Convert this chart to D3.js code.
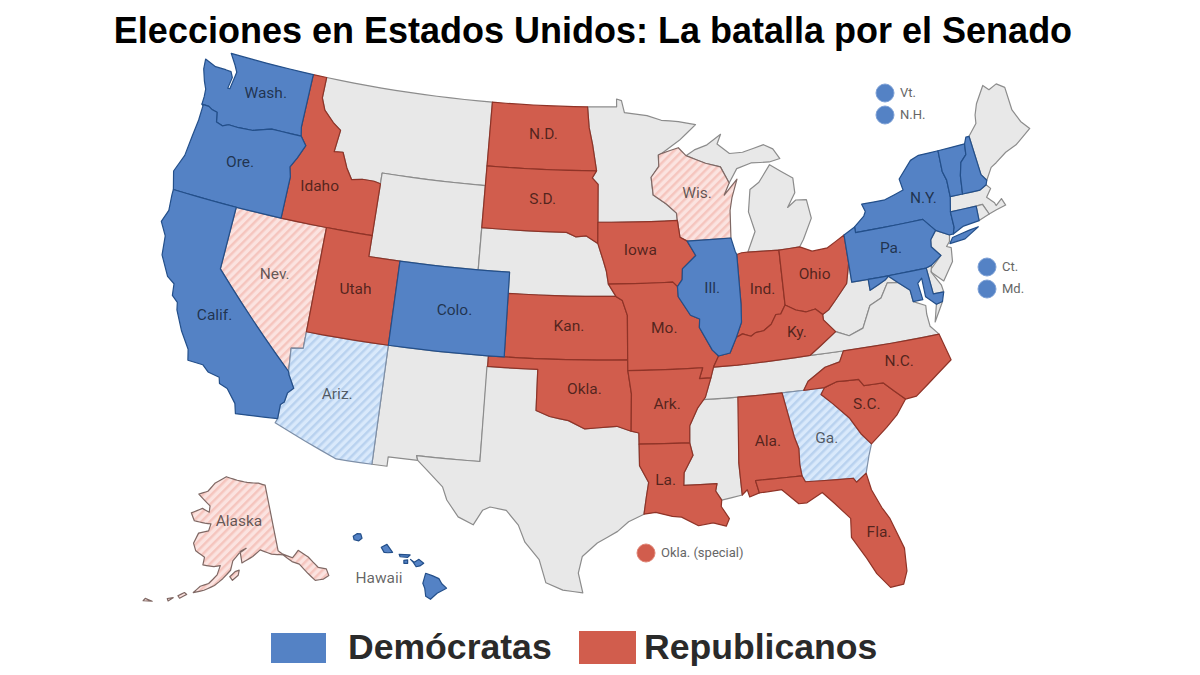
<!doctype html>
<html>
<head>
<meta charset="utf-8">
<style>
  html, body { margin: 0; background: #fff; }
  svg { display: block; }
  .lab { font-family: Roboto, "Open Sans", sans-serif; font-size: 15.5px; fill: #000; fill-opacity: .62; text-anchor: middle; }
  .bub { font-family: Roboto, "Open Sans", sans-serif; font-size: 13px; fill: #666; }
  .big { font-family: "Liberation Sans", Arial, sans-serif; font-weight: bold; }
</style>
</head>
<body>
<div id="chart"></div>
<script src="https://cdnjs.cloudflare.com/ajax/libs/d3/7.8.5/d3.min.js"></script>
<script>
  // Outlines are [lon, lat] rings
  const WA = [[[-124.73,48.38],[-123.9,48.17],[-123.15,48.17],[-122.75,48.15],[-122.55,47.9],[-122.65,47.35],[-122.5,47.35],[-122.4,47.9],[-122.35,48.2],[-122.6,48.5],[-123.1,49],[-117.03,49],[-117.04,46.42],[-116.92,46.0],[-118.98,46.0],[-119.3,45.93],[-120.2,45.72],[-121.2,45.67],[-121.9,45.68],[-122.3,45.55],[-122.75,45.65],[-122.9,46.1],[-123.25,46.15],[-123.55,46.26],[-124.05,46.27],[-124.05,46.65],[-124.1,47.0],[-124.35,47.35],[-124.65,47.9]]]
  const OR = [[[-124.05,46.27],[-123.55,46.26],[-123.25,46.15],[-122.9,46.1],[-122.75,45.65],[-122.3,45.55],[-121.9,45.68],[-121.2,45.67],[-120.2,45.72],[-119.3,45.93],[-118.98,46.0],[-116.92,46.0],[-116.47,45.6],[-116.85,44.95],[-117.2,44.45],[-117.03,44.0],[-117.03,42.0],[-124.21,42.0],[-124.55,42.84],[-124.15,43.7],[-124.05,44.7],[-123.95,45.5],[-123.95,46.2]]]
  const CA = [[[-124.21,42],[-120,42],[-120,39],[-114.63,35.0],[-114.57,34.85],[-114.15,34.27],[-114.45,34.0],[-114.53,33.55],[-114.72,33.4],[-114.72,32.72],[-117.12,32.53],[-117.28,33.0],[-117.9,33.6],[-118.4,33.75],[-118.5,34.03],[-119.2,34.15],[-119.6,34.42],[-120.5,34.45],[-120.65,34.95],[-121.3,35.7],[-121.9,36.6],[-122.0,36.95],[-122.4,37.2],[-122.5,37.75],[-123.0,38.0],[-123.7,38.9],[-123.85,39.8],[-124.35,40.4],[-124.1,41.0],[-124.2,41.75]]]
  const NV = [[[-120,42],[-114.04,42],[-114.04,36.2],[-114.75,36.1],[-114.63,35.0],[-120,39]]]
  const ID = [[[-117.03,49],[-116.05,49],[-116.05,48.0],[-115.7,47.45],[-114.95,46.95],[-114.35,46.65],[-114.5,45.6],[-113.9,45.65],[-113.45,44.95],[-113.0,44.45],[-112.3,44.55],[-111.5,44.55],[-111.05,44.48],[-111.05,42.0],[-117.03,42],[-117.03,44.0],[-117.2,44.45],[-116.85,44.95],[-116.47,45.6],[-116.92,46.0],[-117.04,46.42]]]
  const MT = [[[-116.05,49],[-104.05,49],[-104.04,45.0],[-111.05,45.0],[-111.05,44.48],[-111.5,44.55],[-112.3,44.55],[-113.0,44.45],[-113.45,44.95],[-113.9,45.65],[-114.5,45.6],[-114.35,46.65],[-114.95,46.95],[-115.7,47.45],[-116.05,48.0]]]
  const WY = [[[-111.05,45],[-104.05,45],[-104.05,41],[-111.05,41]]]
  const UT = [[[-114.04,42],[-111.05,42],[-111.05,41],[-109.05,41],[-109.05,37],[-114.04,37]]]
  const CO = [[[-109.05,41],[-102.05,41],[-102.05,37],[-109.05,37]]]
  const AZ = [[[-114.04,37],[-109.05,37],[-109.05,31.33],[-111.07,31.33],[-114.81,32.5],[-114.72,32.72],[-114.72,33.4],[-114.53,33.55],[-114.45,34.0],[-114.15,34.27],[-114.57,34.85],[-114.63,35.0],[-114.75,36.1],[-114.04,36.2]]]
  const NM = [[[-109.05,37],[-103.0,37],[-103.04,32],[-106.62,32],[-106.53,31.78],[-108.2,31.78],[-108.2,31.33],[-109.05,31.33]]]
  const TX = [[[-103.04,36.5],[-100,36.5],[-100,34.56],[-99.2,34.3],[-98.1,34.13],[-97.15,33.75],[-96.5,33.8],[-95.3,33.88],[-94.48,33.64],[-94.04,33.55],[-94.04,33.02],[-94.04,32.0],[-93.55,31.2],[-93.7,30.5],[-93.85,29.7],[-94.7,29.35],[-95.3,28.9],[-96.4,28.35],[-97.2,27.7],[-97.4,26.9],[-97.15,25.96],[-98.2,26.07],[-99.1,26.4],[-99.5,27.5],[-100.3,28.3],[-100.7,29.1],[-101.4,29.77],[-102.3,29.88],[-102.7,29.7],[-103.15,28.98],[-104.0,29.3],[-104.7,30.05],[-105.0,30.65],[-106.0,31.4],[-106.53,31.78],[-106.62,32],[-103.04,32]]]
  const OK = [[[-103,37],[-94.62,37],[-94.62,36.5],[-94.43,35.4],[-94.48,33.64],[-95.3,33.88],[-96.5,33.8],[-97.15,33.75],[-98.1,34.13],[-99.2,34.3],[-100,34.56],[-100,36.5],[-103,36.5]]]
  const KS = [[[-102.05,40],[-95.3,40],[-94.9,39.8],[-94.6,39.1],[-94.62,37],[-102.05,37]]]
  const NE = [[[-104.05,43],[-98.5,43],[-97.9,42.8],[-97.2,42.85],[-96.45,42.5],[-96.1,41.7],[-95.9,41.2],[-95.77,40.58],[-95.3,40],[-102.05,40],[-102.05,41],[-104.05,41]]]
  const SD = [[[-104.05,45.94],[-96.56,45.94],[-96.85,45.6],[-96.45,45.3],[-96.45,43.5],[-96.45,42.5],[-97.2,42.85],[-97.9,42.8],[-98.5,43],[-104.05,43]]]
  const ND = [[[-104.05,49],[-97.23,49],[-97.1,48],[-96.85,47.2],[-96.56,45.94],[-104.05,45.94]]]
  const MN = [[[-97.23,49],[-95.15,49],[-95.15,49.38],[-94.8,49.3],[-94.6,48.72],[-93.0,48.55],[-92.0,48.3],[-90.8,48.2],[-89.6,48.0],[-90.8,47.3],[-92.05,46.72],[-92.3,46.65],[-92.3,46.1],[-92.85,45.6],[-92.75,44.75],[-91.9,44.3],[-91.25,43.85],[-91.22,43.5],[-96.45,43.5],[-96.45,45.3],[-96.85,45.6],[-96.56,45.94],[-96.85,47.2],[-97.1,48]]]
  const IA = [[[-96.45,43.5],[-91.22,43.5],[-91.1,42.7],[-90.65,42.5],[-90.15,41.8],[-91.05,41.2],[-91.1,40.7],[-91.42,40.38],[-91.7,40.6],[-95.77,40.58],[-95.9,41.2],[-96.1,41.7],[-96.45,42.5]]]
  const MO = [[[-95.77,40.58],[-91.7,40.6],[-91.42,40.38],[-91.4,39.9],[-90.7,39.0],[-90.15,38.8],[-90.2,38.4],[-89.5,37.3],[-89.15,37],[-89.5,36.5],[-89.7,36.0],[-90.38,36.0],[-90.15,36.5],[-94.62,36.5],[-94.62,37],[-94.6,39.1],[-94.9,39.8],[-95.3,40]]]
  const AR = [[[-94.62,36.5],[-90.15,36.5],[-90.38,36.0],[-89.7,36.0],[-90.1,35.1],[-90.6,34.6],[-91.1,33.8],[-91.15,33.0],[-94.04,33.02],[-94.04,33.55],[-94.48,33.64],[-94.43,35.4]]]
  const LA = [[[-94.04,33.02],[-91.15,33.0],[-91.0,32.4],[-91.55,31.6],[-91.6,31.0],[-89.75,31.0],[-89.85,30.65],[-89.55,30.2],[-89.6,29.9],[-89.2,29.3],[-89.4,28.95],[-90.1,29.15],[-90.9,29.05],[-91.8,29.5],[-92.3,29.55],[-93.2,29.77],[-93.85,29.7],[-93.7,30.5],[-93.55,31.2],[-94.04,32.0]]]
  const MS = [[[-91.15,33.0],[-91.1,33.8],[-90.6,34.6],[-90.3,35.0],[-88.2,35.0],[-88.1,34.9],[-88.45,31.9],[-88.4,30.37],[-89.55,30.2],[-89.85,30.65],[-89.75,31],[-91.6,31],[-91.55,31.6],[-91.0,32.4]]]
  const AL = [[[-88.2,35],[-85.6,35],[-85.18,32.87],[-85.0,32.3],[-85.05,31.55],[-85.0,31.0],[-87.6,31.0],[-87.45,30.4],[-88.0,30.25],[-88.1,30.6],[-88.4,30.37],[-88.45,31.9]]]
  const GA = [[[-85.6,35],[-83.1,35],[-83.35,34.7],[-82.75,34.2],[-81.9,33.4],[-81.4,32.6],[-80.9,32.05],[-81.15,31.5],[-81.45,30.72],[-82.05,30.36],[-82.2,30.57],[-84.85,30.7],[-85.0,31.0],[-85.05,31.55],[-85.0,32.3],[-85.18,32.87]]]
  const FL = [[[-87.6,31],[-85,31],[-84.85,30.7],[-82.2,30.57],[-82.05,30.36],[-81.45,30.72],[-81.3,29.9],[-80.9,29.0],[-80.55,28.4],[-80.05,26.9],[-80.12,25.8],[-80.4,25.2],[-81.1,25.15],[-81.7,25.9],[-82.1,26.7],[-82.75,27.8],[-82.65,28.7],[-83.4,29.5],[-84.0,30.1],[-84.9,29.7],[-85.35,29.7],[-86.2,30.45],[-87.45,30.4]]]
  const SC = [[[-83.1,35],[-82.35,35.2],[-81.05,35.15],[-80.8,34.82],[-79.67,34.8],[-78.55,33.86],[-79.2,33.2],[-79.9,32.7],[-80.9,32.05],[-81.4,32.6],[-81.9,33.4],[-82.75,34.2],[-83.35,34.7]]]
  const NC = [[[-81.68,36.59],[-75.87,36.55],[-75.5,35.25],[-76.5,34.7],[-77.9,33.9],[-78.55,33.86],[-79.67,34.8],[-80.8,34.82],[-81.05,35.15],[-82.35,35.2],[-83.1,35],[-84.32,35],[-84.0,35.4],[-82.9,35.95],[-82.0,36.1]]]
  const TN = [[[-90.1,35.1],[-89.7,36],[-89.5,36.5],[-88.07,36.5],[-83.68,36.6],[-81.68,36.59],[-82,36.1],[-82.9,35.95],[-84,35.4],[-84.32,35],[-85.6,35],[-88.2,35],[-90.3,35]]]
  const KY = [[[-89.5,36.5],[-88.07,36.5],[-83.68,36.6],[-82.95,37.0],[-81.97,37.54],[-82.6,38.17],[-82.6,38.42],[-83.0,38.73],[-83.6,38.65],[-84.2,38.8],[-84.82,39.1],[-85.15,38.7],[-85.45,38.7],[-85.8,38.27],[-86.3,38.0],[-86.8,37.95],[-87.1,37.8],[-87.6,37.95],[-88.0,37.8],[-88.45,37.1],[-89.15,37]]]
  const VA = [[[-83.68,36.6],[-75.87,36.55],[-76.3,37.0],[-76.35,37.6],[-76.3,38.0],[-77.0,38.3],[-77.05,38.85],[-77.7,39.32],[-78.35,39.4],[-78.9,38.75],[-79.65,38.5],[-80.3,37.5],[-81.2,37.25],[-81.97,37.54],[-82.95,37.0]],[[-75.95,37.15],[-75.25,38.02],[-75.65,37.95]]]
  const WV = [[[-81.97,37.54],[-81.2,37.25],[-80.3,37.5],[-79.65,38.5],[-78.9,38.75],[-78.35,39.4],[-77.7,39.32],[-78.2,39.7],[-78.45,39.55],[-79.48,39.2],[-79.48,39.72],[-80.52,39.72],[-80.52,40.64],[-80.85,39.7],[-81.7,39.0],[-82.2,38.6],[-82.6,38.42],[-82.6,38.17]]]
  const MD = [[[-79.48,39.72],[-75.79,39.72],[-75.7,38.46],[-75.05,38.45],[-75.25,38.02],[-75.65,37.95],[-76.2,38.4],[-76.2,39.3],[-76.5,39.1],[-76.4,38.3],[-77.0,38.3],[-77.05,38.85],[-77.7,39.32],[-78.2,39.7],[-78.45,39.55],[-79.48,39.2]]]
  const DE = [[[-75.79,39.72],[-75.42,39.8],[-75.55,39.5],[-75.1,38.8],[-75.05,38.45],[-75.7,38.46]]]
  const PA = [[[-80.52,41.98],[-79.76,42.27],[-79.76,42.0],[-75.35,42.0],[-74.7,41.36],[-75.13,40.98],[-75.2,40.65],[-74.72,40.15],[-75.42,39.8],[-75.79,39.72],[-80.52,39.72]]]
  const NJ = [[[-74.7,41.36],[-73.9,41.0],[-74.0,40.7],[-74.25,40.5],[-73.98,40.4],[-74.1,39.75],[-74.9,38.95],[-75.5,39.45],[-75.55,39.6],[-74.72,40.15],[-75.2,40.65],[-75.13,40.98]]]
  const NY = [[[-79.76,42.27],[-79.05,42.7],[-78.9,42.9],[-79.05,43.27],[-77.5,43.27],[-76.2,43.55],[-76.3,44.1],[-75.3,44.85],[-74.7,45.0],[-73.35,45.0],[-73.4,44.0],[-73.25,43.55],[-73.28,42.75],[-73.5,42.05],[-73.5,41.3],[-73.65,41.0],[-73.9,41.0],[-74.7,41.36],[-75.35,42.0],[-79.76,42.0]],[[-74.0,40.6],[-73.75,40.85],[-72.6,41.0],[-72.0,41.05],[-73.0,40.65]]]
  const VT = [[[-73.35,45],[-71.5,45.01],[-71.6,44.5],[-72.05,44.2],[-72.3,43.6],[-72.46,42.73],[-73.28,42.75],[-73.25,43.55],[-73.4,44]]]
  const NH = [[[-71.5,45.01],[-71.3,45.3],[-71.08,45.3],[-70.97,43.4],[-70.7,43.07],[-70.82,42.87],[-71.3,42.7],[-72.46,42.73],[-72.3,43.6],[-72.05,44.2],[-71.6,44.5]]]
  const ME = [[[-71.08,45.3],[-70.4,45.8],[-70.3,46.2],[-70,46.7],[-69.23,47.46],[-68.9,47.18],[-68.3,47.35],[-67.8,47.07],[-67.78,45.94],[-67.45,45.3],[-67.0,44.85],[-68.2,44.3],[-69.0,44.1],[-69.8,43.75],[-70.2,43.6],[-70.7,43.07],[-70.97,43.4]]]
  const MA = [[[-73.5,42.05],[-73.28,42.75],[-72.46,42.73],[-71.3,42.7],[-70.82,42.87],[-70.6,42.65],[-71.0,42.3],[-70.6,41.95],[-70.55,41.8],[-70.1,42.05],[-69.95,41.7],[-70.6,41.6],[-71.12,41.5],[-71.38,42.02],[-71.8,42.02]]]
  const RI = [[[-71.8,42.02],[-71.38,42.02],[-71.12,41.5],[-71.85,41.32]]]
  const CT = [[[-73.5,42.05],[-71.8,42.02],[-71.85,41.32],[-72.9,41.25],[-73.65,41.0],[-73.5,41.3]]]
  const OH = [[[-84.8,41.7],[-83.45,41.73],[-82.7,41.45],[-81.7,41.5],[-80.52,41.98],[-80.52,40.64],[-80.85,39.7],[-81.7,39.0],[-82.2,38.6],[-82.6,38.42],[-83.0,38.73],[-83.6,38.65],[-84.2,38.8],[-84.82,39.1]]]
  const IN = [[[-87.52,41.7],[-87.2,41.76],[-86.8,41.76],[-84.8,41.7],[-84.82,39.1],[-85.15,38.7],[-85.45,38.7],[-85.8,38.27],[-86.3,38.0],[-86.8,37.95],[-87.1,37.8],[-87.6,37.95],[-88.0,37.8],[-87.6,38.5],[-87.53,39.35]]]
  const IL = [[[-90.65,42.5],[-87.8,42.5],[-87.6,41.85],[-87.52,41.7],[-87.53,39.35],[-87.6,38.5],[-88,37.8],[-88.45,37.1],[-89.15,37],[-89.5,37.3],[-90.2,38.4],[-90.15,38.8],[-90.7,39.0],[-91.4,39.9],[-91.42,40.38],[-91.1,40.7],[-91.05,41.2],[-90.15,41.8]]]
  const WI = [[[-92.05,46.72],[-90.9,46.95],[-90.4,46.55],[-89.1,46.13],[-88.1,45.9],[-87.6,45.1],[-88,44.55],[-87.05,45.25],[-87.5,44.4],[-87.7,43.8],[-87.8,42.5],[-90.65,42.5],[-91.1,42.7],[-91.22,43.5],[-91.25,43.85],[-91.9,44.3],[-92.75,44.75],[-92.85,45.6],[-92.3,46.1],[-92.3,46.65]]]
  const MI = [[[-86.8,41.76],[-84.8,41.7],[-83.45,41.73],[-83.15,42.05],[-82.45,43.0],[-82.6,43.9],[-83.3,43.95],[-83.9,43.65],[-83.3,44.3],[-83.3,45.0],[-84.75,45.77],[-85.6,45.0],[-86.25,44.7],[-86.5,43.65],[-86.2,42.7]],[[-90.4,46.55],[-89.1,46.13],[-88.1,45.9],[-87.6,45.1],[-87.0,45.75],[-86.0,45.95],[-84.75,45.9],[-84.0,46.0],[-84.4,46.5],[-85.0,46.75],[-86.5,46.5],[-87.4,46.5],[-88.2,47.0],[-87.9,47.45],[-88.9,47.0],[-89.8,46.8]]]
  const AK = [[[-141,69.65],[-141,60.3],[-139.9,59.7],[-137.5,58.9],[-135.5,59.7],[-133.4,58.4],[-131.8,56.6],[-130,56],[-130,55],[-131.5,54.8],[-133.5,55],[-134.7,56.2],[-136.2,57.8],[-137.9,58.4],[-139.9,59.6],[-143,60],[-146,60.8],[-148.3,60],[-151.4,59.2],[-151.8,60.8],[-150,61.2],[-152,60.6],[-153.9,59.5],[-154.5,58.2],[-156.5,57],[-158.5,56],[-161,55.2],[-163.5,54.7],[-162,55.7],[-160,56.2],[-158,57.5],[-157.3,58.8],[-159,58.6],[-162,58.7],[-161.8,59.8],[-164.5,60.5],[-165.5,61.5],[-164.5,63],[-161.5,63.5],[-161,64.5],[-163,64.5],[-166.5,64.6],[-168,65.6],[-164.5,66.5],[-162,66.1],[-162,67],[-164,67.6],[-166.7,68.4],[-163.5,69],[-161,70.3],[-156.6,71.3],[-152,70.8],[-148,70.4],[-143.5,70.1]],[[-152.2,58.2],[-152.5,57.5],[-154,56.8],[-154.7,57.3],[-153.3,58]],[[-165,54.3],[-166.5,53.6],[-167,53.9],[-165.6,54.5]],[[-168,53.5],[-169,52.9],[-169.3,53.2]],[[-172.5,52.3],[-174.5,52],[-174.2,52.4]]]
  const HI = [[[-159.75,22.1],[-159.55,22.23],[-159.35,22.22],[-159.28,22.0],[-159.45,21.87],[-159.7,21.92]],[[-158.25,21.55],[-157.95,21.7],[-157.65,21.3],[-157.9,21.28],[-158.1,21.3]],[[-157.3,21.2],[-156.72,21.17],[-156.85,21.05],[-157.25,21.08]],[[-157.05,20.9],[-156.85,20.92],[-156.85,20.75],[-157.05,20.75]],[[-156.7,20.95],[-156.5,20.8],[-156.25,20.95],[-156.0,20.75],[-156.2,20.62],[-156.4,20.58],[-156.55,20.8]],[[-155.9,20.25],[-155.55,20.13],[-155.2,19.98],[-155.05,19.72],[-154.8,19.5],[-155.3,19.25],[-155.65,18.95],[-155.9,19.1],[-155.95,19.5],[-156.05,19.75]]]

  const demStates = ['WA', 'OR', 'CA', 'CO', 'IL', 'NY', 'PA', 'VT', 'NH', 'CT', 'MD', 'HI']
  const repStates = ['ID', 'UT', 'ND', 'SD', 'KS', 'OK', 'IA', 'MO', 'AR', 'LA', 'IN', 'OH', 'KY', 'AL', 'FL', 'SC', 'NC']
  const leanRep = ['NV', 'WI', 'AK']
  const leanDem = ['AZ', 'GA']
  const otherStates = ['MT', 'WY', 'NM', 'TX', 'NE', 'MN', 'MS', 'TN', 'WV', 'VA', 'MI', 'ME', 'MA', 'RI', 'NJ', 'DE']
  const outlines = { WA, OR, CA, NV, ID, MT, WY, UT, CO, AZ, NM, TX, OK, KS, NE, SD, ND, MN, IA, MO, AR, LA, MS, AL, GA, FL, SC, NC, TN, KY, VA, WV, MD, DE, PA, NJ, NY, VT, NH, ME, MA, RI, CT, OH, IN, IL, WI, MI, AK, HI }

  const labelNames = ['Wash.', 'Ore.', 'Calif.', 'Nev.', 'Idaho', 'Utah', 'Colo.', 'Ariz.', 'N.D.', 'S.D.', 'Kan.', 'Okla.', 'Iowa', 'Mo.', 'Ark.', 'La.', 'Wis.', 'Ill.', 'Ind.', 'Ohio', 'Ky.', 'Ala.', 'Ga.', 'Fla.', 'S.C.', 'N.C.', 'N.Y.', 'Pa.']
  const labelSpots = [[-120.0,47.6],[-120.5,44.1],[-119.65,36.85],[-116.65,39.35],[-115.0,43.85],[-111.55,39.4],[-105.3,39.0],[-111.6,34.35],[-100.3,47.65],[-100.15,44.55],[-98.2,38.6],[-97.2,35.65],[-93.7,42.15],[-92.35,38.45],[-92.35,34.9],[-92.6,31.3],[-89.8,44.75],[-89.25,40.2],[-86.1,39.95],[-82.75,40.35],[-84.3,37.75],[-86.7,32.8],[-83.35,32.65],[-81.25,27.85],[-80.8,33.95],[-78.5,35.7],[-75.0,43.0],[-77.7,41.0]]

  const bubbleNames = ['Vt.', 'N.H.', 'Ct.', 'Md.', 'Okla. (special)']
  const bubbleParty = ['dem', 'dem', 'dem', 'dem', 'rep']
  const legendNames = ['Demócratas', 'Republicanos']

  const width = 1200, height = 675
  const blue = '#5482c5', red = '#d15d4d', gray = '#e8e8e8'

  const bubbleAt = [[885,93],[885,115],[987,267],[987,289],[646,553]]

  const main = d3.geoAlbers().scale(1205).translate([595, 324])
  const alaska = d3.geoConicEqualArea().rotate([154, 0]).center([-2, 58.5]).parallels([55, 65]).scale(410).translate([225, 568])
  const hawaii = d3.geoConicEqualArea().rotate([157, 0]).center([-3, 19.9]).parallels([8, 18]).scale(1150).translate([348, 580])
  const projFor = k => k == 'AK' ? alaska : k == 'HI' ? hawaii : main

  const line = d3.line()

  // long straight runs have to bend along the parallels
  function finer(ring) {
    const out = []
    ring.forEach((p, i) => {
      const q = ring[(i + 1) % ring.length]
      const n = Math.ceil(Math.abs(q[0] - p[0]))
      d3.range(Math.max(n, 1)).forEach(j => {
        const t = j / Math.max(n, 1)
        out.push([p[0] + (q[0] - p[0]) * t, p[1] + (q[1] - p[1]) * t])
      })
    })
    return out
  }

  function statePath(k) {
    const proj = projFor(k)
    return outlines[k].map(r => line(finer(r).map(p => proj(p))) + 'Z').join('')
  }

  const svg = d3.select('#chart').append('svg').attr('width', width).attr('height', height)

  const defs = svg.append('defs')
  function hatch(id, bg, stripe) {
    const p = defs.append('pattern').attr('id', id).attr('patternUnits', 'userSpaceOnUse')
      .attr('width', 6).attr('height', 6).attr('patternTransform', 'rotate(45)')
    p.append('rect').attr('width', 6).attr('height', 6).attr('fill', bg)
    p.append('rect').attr('width', 2.5).attr('height', 6).attr('fill', stripe)
  }
  hatch('hatchRed', '#fbe3e0', '#f5c5be')
  hatch('hatchBlue', '#d9e9fb', '#b9d2ef')

  function drawGroup(keys, fill, stroke) {
    svg.append('g').selectAll('path').data(keys).enter().append('path')
      .attr('d', statePath)
      .attr('fill', fill)
      .attr('stroke', stroke)
      .attr('stroke-width', 1.2)
      .attr('stroke-linejoin', 'round')
  }
  drawGroup(otherStates, gray, '#8c8c8c')
  drawGroup(leanRep, 'url(#hatchRed)', '#7f6864')
  drawGroup(leanDem, 'url(#hatchBlue)', '#7d8fa8')
  drawGroup(repStates, red, '#8f3327')
  drawGroup(demStates, blue, '#234f8a')

  svg.append('g').selectAll('text').data(labelNames).enter().append('text')
    .attr('class', 'lab')
    .attr('x', (d, i) => main(labelSpots[i])[0])
    .attr('y', (d, i) => main(labelSpots[i])[1] + 5)
    .text(d => d)

  svg.append('text').attr('class', 'lab').attr('x', 239).attr('y', 526).text('Alaska')
  svg.append('text').attr('class', 'lab').attr('x', 379).attr('y', 583).text('Hawaii')

  const bubbles = svg.append('g').selectAll('g').data(bubbleNames).enter().append('g')
    .attr('transform', (d, i) => `translate(${bubbleAt[i]})`)
  bubbles.append('circle').attr('r', 9)
    .attr('fill', (d, i) => bubbleParty[i] == 'dem' ? blue : red)
    .attr('stroke', (d, i) => bubbleParty[i] == 'dem' ? '#7ea1d6' : '#e08576')
  bubbles.append('text').attr('class', 'bub').attr('x', 15).attr('y', 4).text(d => d)

  svg.append('text').attr('class', 'big').attr('x', 593).attr('y', 43)
    .attr('text-anchor', 'middle').attr('font-size', 36)
    .text('Elecciones en Estados Unidos: La batalla por el Senado')

  svg.append('rect').attr('x', 271).attr('y', 633).attr('width', 55).attr('height', 30).attr('fill', blue)
  svg.append('rect').attr('x', 579).attr('y', 631).attr('width', 57).attr('height', 33).attr('fill', red)
  svg.append('text').attr('class', 'big').attr('x', 348).attr('y', 659).attr('font-size', 35.6).attr('fill', '#2a2a2a').text(legendNames[0])
  svg.append('text').attr('class', 'big').attr('x', 644).attr('y', 659).attr('font-size', 35.6).attr('fill', '#2a2a2a').text(legendNames[1])
</script>
</body>
</html>
